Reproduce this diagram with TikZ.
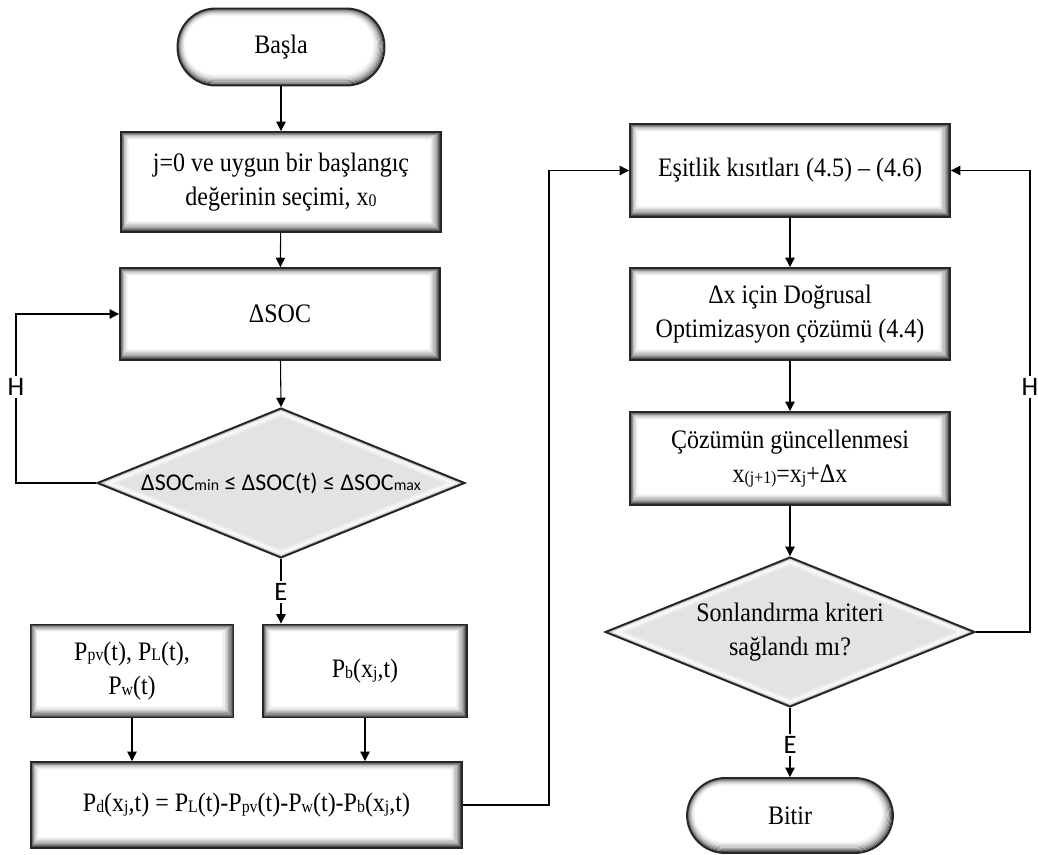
\documentclass[tikz,border=0pt]{standalone}
\usepackage{fontspec}
\usepackage{graphicx}
\setmainfont[FakeStretch=0.9]{Liberation Serif}
\newfontfamily\sansfnt{Carlito}
\usetikzlibrary{shapes.geometric,arrows.meta,calc}
% one pixel of the drawing grid
\newcommand{\pxu}{0.75pt}
% small index text set on the baseline
\newcommand{\lo}[1]{\raisebox{-0.6pt}{\scalebox{0.66}{#1}}}

\tikzset{
  boxtext/.style={font=\fontsize{20}{26}\selectfont, align=center, inner sep=0pt},
  bevelbox/.style={rectangle, boxtext, draw=black!85, line width=1.4pt, fill=white,
    path picture={
      \foreach \i/\c in {1/70,2/56,3/44,4/34,5/25,6/18,7/12,8/7,9/3}{
        \draw[black!\c, line width=0.9pt]
          ([shift={(\i*0.6pt,\i*0.9pt)}]path picture bounding box.south west) rectangle
          ([shift={(-\i*0.9pt,-\i*0.6pt)}]path picture bounding box.north east);
      }}},
  terminal/.style={rectangle, boxtext, rounded corners=28.5pt, draw=black!85, line width=1.4pt, fill=white,
    path picture={
      \foreach \i/\c [evaluate=\i as \r using 28.5-0.75*\i] in {1/70,2/56,3/44,4/34,5/25,6/18,7/12,8/7,9/3}{
        \draw[black!\c, line width=0.9pt, rounded corners=\r pt]
          ([shift={(\i*0.6pt,\i*0.9pt)}]path picture bounding box.south west) rectangle
          ([shift={(-\i*0.9pt,-\i*0.6pt)}]path picture bounding box.north east);
      }}},
  decision/.style={diamond, aspect=2.45, inner sep=0pt, align=center, draw=black!85, line width=1.4pt, fill=black!11,
    path picture={
      \foreach \i/\c in {1/50,2/18,3/5,4/2,5/3,6/5,7/8}{
        \draw[black!\c, line width=0.9pt]
          ([xshift=2.66*\i*0.75pt]path picture bounding box.west) --
          ([yshift=-1.08*\i*0.75pt]path picture bounding box.north) --
          ([xshift=-2.66*\i*0.75pt]path picture bounding box.east) --
          ([yshift=1.08*\i*0.75pt]path picture bounding box.south) -- cycle;
      }}},
  conn/.style={draw=black, line width=0.8pt, -{Triangle[length=7pt,width=7pt]}},
  lbl/.style={font=\sansfnt\fontsize{20}{22}\selectfont, fill=white, inner sep=1.5pt},
}

\begin{document}
\begin{tikzpicture}[x=0.75pt,y=-0.75pt]
\useasboundingbox (0,0) rectangle (1038,855);

% left column
\node[terminal, minimum width=207*\pxu, minimum height=77*\pxu] (start) at (281,47) {Başla};
\node[bevelbox, minimum width=320*\pxu, minimum height=100*\pxu] (init) at (281,182)
  {j=0 ve uygun bir başlangıç\\değerinin seçimi, x\lo{0}};
\node[bevelbox, minimum width=320*\pxu, minimum height=92*\pxu] (dsoc) at (280,314) {ΔSOC};
\node[decision, minimum width=368*\pxu, minimum height=150*\pxu,
      font=\sansfnt\fontsize{18}{21}\selectfont] (cond1) at (281,483)
  {ΔSOC\lo{min} ≤ ΔSOC(t) ≤ ΔSOC\lo{max}};
\node[bevelbox, minimum width=203*\pxu, minimum height=93*\pxu] (pin) at (132,671)
  {P\lo{pv}(t), P\lo{L}(t),\\P\lo{w}(t)};
\node[bevelbox, minimum width=204*\pxu, minimum height=93*\pxu] (pb) at (365,671)
  {P\lo{b}(x\lo{j},t)};
\node[bevelbox, minimum width=431*\pxu, minimum height=86*\pxu] (pd) at (246.5,805)
  {P\lo{d}(x\lo{j},t) = P\lo{L}(t)-P\lo{pv}(t)-P\lo{w}(t)-P\lo{b}(x\lo{j},t)};

% right column
\node[bevelbox, minimum width=320*\pxu, minimum height=93*\pxu] (eq) at (790,170.5)
  {Eşitlik kısıtları (4.5) – (4.6)};
\node[bevelbox, minimum width=320*\pxu, minimum height=92*\pxu] (lp) at (790,314)
  {Δx için Doğrusal\\Optimizasyon çözümü (4.4)};
\node[bevelbox, minimum width=320*\pxu, minimum height=93*\pxu] (upd) at (790,458.5)
  {Çözümün güncellenmesi\\x\lo{(j+1)}=x\lo{j}+Δx};
\node[decision, minimum width=370*\pxu, minimum height=150*\pxu,
      font=\fontsize{20}{26}\selectfont] (cond2) at (790,632)
  {Sonlandırma kriteri\\sağlandı mı?};
\node[terminal, minimum width=206*\pxu, minimum height=75*\pxu] (stop) at (790,815.5) {Bitir};

% loop corners
\coordinate (lx) at (16,483);
\coordinate (mx) at (549,805);
\coordinate (rx) at (1030,632);

% connectors
\draw[conn] (start) -- (init);
\draw[conn] (init) -- (dsoc);
\draw[conn] (dsoc) -- (cond1.north);
\draw[conn] (cond1.west) -- (lx) |- (dsoc.west);
\draw[conn] (cond1.south) -- (cond1.south |- pb.north);
\draw[conn] (pin.south) -- (pin.south |- pd.north);
\draw[conn] (pb.south) -- (pb.south |- pd.north);
\draw[conn] (pd.east) -- (mx) |- (eq.west);
\draw[conn] (eq) -- (lp);
\draw[conn] (lp) -- (upd);
\draw[conn] (upd) -- (cond2.north);
\draw[conn] (cond2.east) -- (rx) |- (eq.east);
\draw[conn] (cond2.south) -- (stop.north);

% branch labels
\node[lbl] (h1) at (16,387) {H};
\node[lbl] (e1) at (281,592) {E};
\node[lbl] (h2) at (1030,387) {H};
\node[lbl] (e2) at (790,745) {E};
\end{tikzpicture}
\end{document}
